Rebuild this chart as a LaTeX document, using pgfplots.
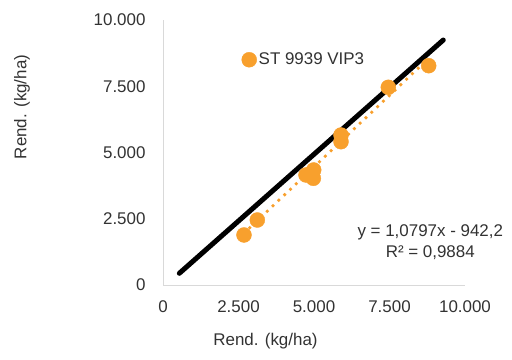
\documentclass[border=0pt]{standalone}
\usepackage{pgfplots}
\pgfplotsset{compat=1.18}
\usepackage{fontspec}
\setmainfont{Liberation Sans}
\definecolor{dotorange}{RGB}{248,160,45}
\definecolor{axgray}{RGB}{217,217,217}
\definecolor{txtgray}{RGB}{50,50,50}
\begin{document}
\begin{tikzpicture}
\useasboundingbox (0bp,0bp) rectangle (512bp,360bp);
\begin{axis}[
  at={(163bp,75bp)}, anchor=south west,
  scale only axis, width=302bp, height=265bp,
  xmin=0, xmax=10000, ymin=0, ymax=10000,
  xtick={0,2500,5000,7500,10000}, ytick={0,2500,5000,7500,10000},
  xticklabels={0,2.500,5.000,7.500,10.000},
  yticklabels={0,2.500,5.000,7.500,10.000},
  scaled ticks=false,
  /pgf/number format/assume math mode=true,
  major tick length=0pt,
  axis x line*=bottom, axis y line*=left,
  axis line style={axgray, line width=1bp, -},
  tick label style={font=\fontsize{17}{20}\selectfont, text=txtgray},
  xticklabel style={yshift=-12bp},
  yticklabel style={xshift=-14bp},
  clip=false,
  legend style={at={(rel axis cs:0.26,0.85)}, anchor=west, draw=none, fill=none,
    font=\fontsize{17}{20}\selectfont, text=txtgray, inner sep=0pt},
  legend cell align=left,
]
\addplot[only marks, mark=*, mark size=7.5bp, dotorange, mark options={draw=dotorange, fill=dotorange}]
  coordinates {(2682,1887) (3123,2453) (4990,4340) (4735,4151) (4978,4026) (5894,5660) (5894,5408) (7461,7460) (8797,8276)};
\addlegendentry{ST 9939 VIP3}
\addplot[black, line width=5bp, line cap=round, forget plot] coordinates {(540,441) (9281,9245)};
\addplot[dotorange, line width=3.8bp, line cap=round, dash pattern=on 0pt off 8bp, forget plot]
  coordinates {(2682,1954) (8797,8556)};
\node[align=center, font=\fontsize{17}{21}\selectfont, text=txtgray] at (rel axis cs:0.885,0.16) {y = 1,0797x - 942,2\\R² = 0,9884};
\end{axis}
\node[rotate=90, font=\fontsize{17}{20}\selectfont, text=txtgray] at (22bp,253bp) {Rend. (kg/ha)};
\node[font=\fontsize{17}{20}\selectfont, text=txtgray] at (265.5bp,19bp) {Rend. (kg/ha)};
\end{tikzpicture}
\end{document}
